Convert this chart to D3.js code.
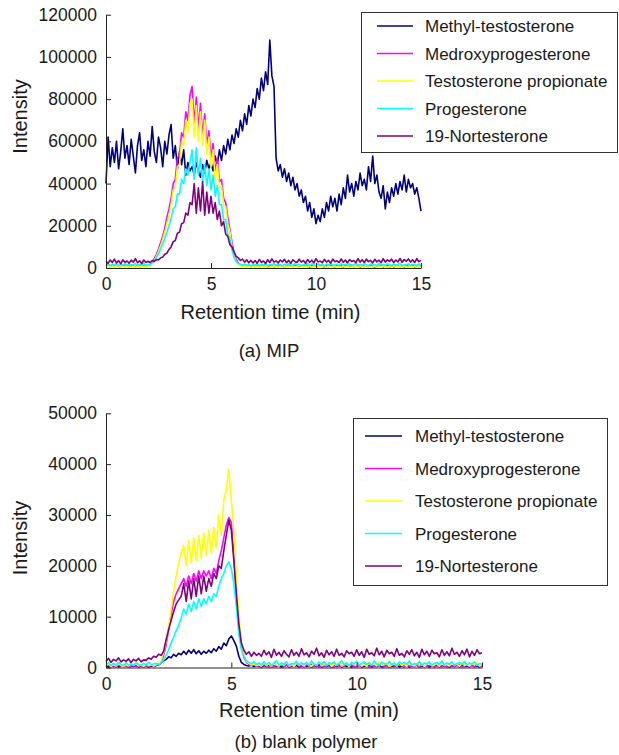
<!DOCTYPE html>
<html><head><meta charset="utf-8">
<script src="https://cdn.jsdelivr.net/npm/d3@7"></script>
<style>
body{margin:0;background:#fff;}
svg{display:block;font-family:"Liberation Sans",Arial,Helvetica,sans-serif;}
</style>
</head><body>
<svg id="chart" width="619" height="755"></svg>
<script>
// ---------------- data ----------------
const seriesNames = ["Methyl-testosterone","Medroxyprogesterone","Testosterone propionate","Progesterone","19-Nortesterone"];
const seriesColors = ["#000080","#ff00ff","#ffff00","#00ffff","#800080"];
const timeStep = 0.1;            // minutes between samples (t = 0 … 15)
const xTickValues = [0,5,10,15];
const yTickValuesA = [0,20000,40000,60000,80000,100000,120000];
const yTickValuesB = [0,10000,20000,30000,40000,50000];
const panelCaptions = ["(a) MIP","(b) blank polymer"];
const xAxisTitle = "Retention time (min)";
const yAxisTitle = "Intensity";

// intensities in thousands (×1000), panel (a) MIP
const mtA = [40,
 62,48,57,50,60,47,55,66,52,58,
 49,61,53,45,58,64,51,56,48,60,
 53,67,55,50,62,57,48,60,54,63,
 68,52,58,47,55,49,56,44,50,46,
 48,44,50,46,43,49,45,51,47,50,
 46,53,49,56,51,58,54,61,56,63,
 59,66,62,70,65,73,68,77,72,80,
 76,85,80,90,84,93,87,108,91,86,
 52,46,49,43,47,41,45,39,43,37,
 40,34,37,31,34,27,31,24,28,21,
 25,22,28,24,31,27,34,29,33,27,
 35,30,38,33,44,36,40,34,41,37,
 45,39,42,37,48,41,53,40,44,36,
 33,39,28,36,31,38,34,40,35,41,
 37,44,36,42,38,40,35,38,33,27];
const mpA = [0.8,
 1.5,0.5,1.2,0.7,1.6,0.9,0.4,1.3,0.8,1.1,
 0.6,1.4,0.9,0.5,1.2,0.7,1.5,0.8,1.0,1.3,
 1.5,2.8,4.5,6.5,9,12,15,19,24,28,
 33,40,42,52,54,64,62,74,70,82,
 86,68,81,66,78,62,73,58,65,52,
 59,45,52,41,42,33,31,24,18,12,
 7,4,2.5,1.5,1.0,1.3,0.7,1.1,0.5,1.2,
 0.6,1.3,0.4,1.0,0.7,1.4,0.5,0.9,1.2,0.3,
 1.1,0.6,1.5,0.8,0.4,1.2,0.7,1.0,0.5,1.3,
 0.8,0.4,1.1,0.6,1.4,0.9,0.3,1.2,0.7,1.0,
 0.5,1.3,0.8,0.4,1.1,0.6,1.5,0.9,0.5,1.2,
 0.7,1.0,0.4,1.3,0.8,0.6,1.4,0.5,0.9,1.1,
 0.3,1.2,0.7,1.0,0.6,1.5,0.8,0.4,1.1,0.7,
 1.3,0.5,0.9,1.2,0.6,1.0,0.4,1.4,0.8,0.6,
 1.1,0.5,1.3,0.7,0.9,1.2,0.4,1.0,0.6,1.1];
const tpA = [0.6,
 1.0,0.4,0.9,0.5,1.1,0.7,0.3,1.0,0.6,0.8,
 0.5,1.0,0.7,0.4,0.9,0.6,1.1,0.5,0.8,1.0,
 1.2,2.2,3.6,5.5,7.8,10.5,13.5,17,21,25,
 30,37,38,48,49,60,58,70,64,78,
 80,62,77,60,74,58,70,54,62,48,
 56,42,49,38,39,30,29,21,17,10,
 5.5,3,1.8,1.2,0.8,1.0,0.5,0.9,0.4,0.8,
 0.5,0.9,0.3,0.8,0.4,1.1,0.6,0.2,0.9,0.5,
 0.8,0.3,1.0,0.6,0.4,0.9,0.5,1.2,0.3,0.7,
 0.6,0.2,0.9,0.5,1.0,0.4,0.8,0.3,1.1,0.6,
 0.4,0.9,0.5,0.7,0.2,1.0,0.6,0.4,0.8,0.5,
 1.1,0.3,0.7,0.5,0.9,0.2,0.8,0.6,1.0,0.4,
 0.6,0.9,0.3,1.2,0.5,0.7,0.4,0.9,0.3,0.8,
 0.5,1.0,0.6,0.3,0.9,0.4,0.7,1.1,0.5,0.8,
 0.3,0.9,0.6,0.4,1.0,0.5,0.8,0.3,0.7,0.6];
const pgA = [1.5,
 2.0,1.1,1.8,1.3,2.2,1.0,1.7,1.2,2.0,1.4,
 1.9,1.0,1.6,2.1,1.2,1.8,1.4,2.2,1.1,1.7,
 1.6,2.6,3.4,5.0,6.8,9.0,11.5,14,17,20,
 23.5,28,29,35,35,42,40,47,44,50,
 56,42,57,44,52,41,49,39,47,37,
 44,34,39,30,30,23,23,16,14,8.5,
 5,3,2.2,1.8,1.3,1.9,1.2,1.7,1.0,1.6,
 1.4,2.0,1.1,1.8,1.3,2.2,1.0,1.7,1.5,2.1,
 1.2,1.9,1.4,1.0,1.8,1.3,2.1,1.1,1.6,2.0,
 1.3,1.8,1.0,1.7,1.4,2.2,1.2,1.9,1.5,1.1,
 2.0,1.3,1.7,1.0,1.9,1.4,2.1,1.2,1.6,1.8,
 1.1,2.0,1.4,1.7,1.2,1.9,1.0,1.6,2.2,1.3,
 1.8,1.2,2.0,1.5,1.1,1.9,1.3,1.7,1.0,2.1,
 1.4,1.8,1.2,2.0,1.5,1.0,1.9,1.3,1.7,2.2,
 1.1,1.6,1.4,2.0,1.2,1.8,1.5,1.1,1.9,1.4];
const ntA = [3.2,
 2.2,3.8,2.6,4.2,2.4,3.5,2.0,3.9,2.7,3.3,
 2.3,3.7,2.8,4.4,2.5,3.4,2.1,3.8,2.6,3.2,
 2.6,3.5,3.1,4.0,3.8,4.8,5.2,6.5,7.0,8.8,
 10,12.5,13,16.5,17,21,21.5,26,25,31,
 30,40,26,38,27,41,25,36,26,34,
 26,31,23,27,20,22,16,15,11,10,
 7.5,5.5,4.8,3.6,4.2,2.8,3.9,2.5,3.6,2.4,
 3.5,2.3,4.0,2.7,3.3,2.2,3.9,2.6,4.3,2.8,
 3.4,2.4,3.8,2.9,4.1,2.5,3.6,2.2,3.9,3.0,
 2.6,4.2,2.8,3.5,2.3,4.0,2.7,3.7,2.4,4.4,
 2.9,3.3,2.5,4.1,2.8,3.6,2.3,4.2,3.0,3.4,
 2.6,4.3,2.7,3.8,2.4,4.0,3.1,3.5,2.5,4.4,
 2.8,3.9,2.6,4.2,3.0,3.6,2.4,4.1,2.9,3.7,
 2.5,4.4,2.8,3.9,3.1,4.2,2.6,3.8,2.9,4.5,
 2.7,4.0,3.2,4.3,2.8,3.9,2.6,4.4,3.0,3.6];

// intensities in thousands (×1000), panel (b) blank polymer
const mtB = [0.3,
 0.1,0.4,0.2,0.5,0.1,0.3,0.2,0.4,0.1,0.3,
 0.2,0.5,0.1,0.3,0.2,0.4,0.1,0.3,0.2,0.4,
 0.5,0.9,1.3,1.6,2.1,1.9,2.6,2.2,2.8,2.5,
 3.2,2.6,3.4,2.8,3.5,2.7,3.3,2.6,3.2,2.8,
 3.4,2.9,3.7,3.2,4.1,3.6,4.8,4.3,5.6,6.2,
 5.3,4.2,2.2,1.0,0.6,0.4,0.3,0.5,0.2,0.4,
 0.3,0.1,0.4,0.2,0.5,0.1,0.3,0.2,0.4,0.1,
 0.2,0.5,0.1,0.3,0.2,0.4,0.1,0.3,0.6,0.2,
 0.4,0.1,0.3,0.2,0.5,0.1,0.3,0.2,0.4,0.1,
 0.3,0.2,0.5,0.1,0.4,0.2,0.3,0.1,0.4,0.2,
 0.5,0.1,0.3,0.2,0.4,0.1,0.3,0.2,0.5,0.1,
 0.2,0.4,0.1,0.3,0.2,0.5,0.1,0.3,0.2,0.4,
 0.1,0.3,0.2,0.6,0.1,0.3,0.2,0.4,0.1,0.3,
 0.2,0.5,0.1,0.3,0.2,0.4,0.1,0.3,0.2,0.5,
 0.1,0.4,0.2,0.3,0.1,0.5,0.2,0.3,0.1,0.4];
const mpB = [0.3,
 0.5,0.2,0.4,0.1,0.5,0.3,0.2,0.4,0.1,0.3,
 0.4,0.2,0.5,0.3,0.1,0.4,0.2,0.5,0.3,0.4,
 0.5,1.0,2.4,4.5,7.5,10.5,13,14.5,15.5,16.5,
 17.5,16,18,16.5,18.5,17,19,17.5,19,18,
 19,17.5,19.5,18.5,21,23,25.5,28,29.5,28.5,
 22,15,8.5,4.2,2,1,0.6,0.4,0.5,0.3,
 0.4,0.2,0.6,0.3,0.1,0.5,0.2,0.4,0.3,0.6,
 0.2,0.5,0.1,0.4,0.3,0.7,0.2,0.4,0.1,0.5,
 0.3,0.6,0.2,0.4,0.1,0.5,0.3,0.2,0.6,0.4,
 0.1,0.5,0.3,0.2,0.4,0.6,0.2,0.5,0.1,0.3,
 0.4,0.2,0.7,0.3,0.1,0.5,0.2,0.4,0.3,0.6,
 0.2,0.4,0.1,0.5,0.3,0.2,0.6,0.4,0.1,0.5,
 0.3,0.2,0.5,0.4,0.1,0.6,0.3,0.2,0.4,0.5,
 0.1,0.3,0.6,0.2,0.4,0.1,0.5,0.3,0.2,0.4,
 0.6,0.1,0.3,0.5,0.2,0.4,0.1,0.6,0.3,0.2];
const tpB = [0.4,
 0.7,0.2,0.6,0.3,0.8,0.4,0.2,0.6,0.3,0.7,
 0.4,0.8,0.3,0.6,0.2,0.7,0.4,0.5,0.3,0.6,
 0.7,1.4,3.0,5.2,8.2,11.5,15,18,20.5,22.5,
 24,20,25,20.5,25.5,21,26,21.5,26.5,22,
 27,22.5,27.5,23.5,30,26,33,35,39,33,
 27,18,10,5,2.5,1.2,0.8,0.5,0.7,0.4,
 0.6,0.3,0.9,0.4,0.7,0.2,1.0,0.5,0.3,0.8,
 0.4,1.1,0.3,0.6,0.2,0.9,0.5,0.7,0.3,1.0,
 0.5,0.2,0.8,0.4,1.2,0.3,0.6,0.5,0.9,0.2,
 0.7,0.4,1.0,0.3,0.6,0.8,0.2,1.1,0.5,0.4,
 0.9,0.3,0.6,0.2,1.0,0.5,0.7,0.3,1.2,0.4,
 0.6,0.9,0.2,0.5,0.8,0.3,1.0,0.4,0.7,0.2,
 1.1,0.5,0.3,0.8,0.4,0.9,0.2,0.6,1.0,0.3,
 0.5,0.8,0.2,1.2,0.4,0.6,0.3,0.9,0.5,0.7,
 0.2,1.0,0.4,0.6,0.3,0.8,0.5,1.1,0.3,0.6];
const pgB = [0.6,
 0.9,0.4,0.8,0.5,1.0,0.6,0.4,0.9,0.5,0.7,
 0.5,0.9,0.6,0.4,0.8,0.5,1.0,0.6,0.7,0.8,
 0.6,0.9,1.5,2.4,3.5,4.8,6.0,7.2,8.3,9.8,
 11.5,10.5,12.5,11,13,11.5,13.5,12,13.5,12.5,
 14,13,14.5,14,16,17.5,18.5,20,20.8,19.5,
 16.5,12,6.5,3.5,2.2,1.4,1.0,0.7,1.1,0.6,
 0.9,0.5,1.2,0.6,1.0,0.4,0.8,1.3,0.5,0.9,
 0.6,1.1,0.4,0.8,0.7,1.2,0.5,0.9,0.6,1.0,
 0.4,1.3,0.7,0.5,1.0,0.6,1.2,0.4,0.9,0.7,
 1.1,0.5,0.8,1.3,0.6,0.9,0.4,1.0,0.7,1.2,
 0.5,0.8,1.1,0.6,0.9,0.4,1.3,0.7,0.5,1.0,
 0.8,0.6,1.2,0.5,0.9,0.4,1.1,0.7,1.0,0.6,
 1.3,0.5,0.8,0.6,1.2,0.4,0.9,0.7,1.1,0.5,
 0.8,1.0,0.6,1.3,0.5,0.9,0.7,1.1,0.4,0.8,
 1.0,0.6,1.2,0.5,0.9,0.7,1.1,0.4,0.8,0.6];
const ntB = [1.2,
 1.8,1.0,1.6,1.3,1.9,1.1,1.5,1.2,1.7,1.0,
 1.6,1.3,1.8,1.1,1.5,1.4,1.9,1.6,2.2,2.0,
 2.6,2.4,3.2,5.5,7.5,9.3,11,12.5,13.3,14,
 16.5,13,17,13.5,17.5,14,18,14.5,18,15,
 17.5,16,18.5,17.5,20,19.5,23,26,29,27,
 21,14.6,8.6,4.8,3.4,2.6,3.1,2.2,3.0,2.4,
 2.8,2.2,3.4,2.5,3.1,2.0,3.6,2.4,3.0,2.2,
 3.3,2.6,2.1,3.5,2.4,3.0,2.2,3.7,2.5,2.9,
 2.1,3.2,2.6,3.8,2.3,2.9,2.0,3.4,2.5,3.1,
 2.2,3.6,2.4,2.8,2.1,3.3,2.7,3.0,2.2,3.5,
 2.4,3.1,2.0,3.6,2.6,2.9,2.3,3.8,2.5,3.2,
 2.1,3.4,2.7,3.0,2.2,3.7,2.4,2.8,2.1,3.3,
 2.6,3.5,2.3,3.0,2.0,3.6,2.5,3.2,2.2,3.4,
 2.7,2.9,2.1,3.5,2.4,3.1,2.3,3.8,2.6,3.0,
 2.2,3.3,2.5,3.6,2.1,3.2,2.4,3.5,2.7,2.9];

// ---------------- drawing ----------------
const svg = d3.select("#chart");

const panels = [
  { series:[mtA,mpA,tpA,pgA,ntA], yTicks:yTickValuesA, yMax:120000,
    x0:106, x1:421, yBottom:268, yTop:14.7,
    legend:{x:361, y:12, w:256, h:140, row0:26, rowGap:27.5, lineX0:377, lineX1:413, textX:425},
    yTitleY:116.5, xTitleX:270.5, xTitleY:319, captionX:269, captionY:357, caption:panelCaptions[0] },
  { series:[mtB,mpB,tpB,pgB,ntB], yTicks:yTickValuesB, yMax:50000,
    x0:106, x1:482, yBottom:667.5, yTop:413.3,
    legend:{x:353, y:418, w:254, h:167, row0:436, rowGap:32.5, lineX0:365, lineX1:402, textX:415},
    yTitleY:538, xTitleX:309, xTitleY:717, captionX:306, captionY:748, caption:panelCaptions[1] }
];

panels.forEach(p => {
  const x = d3.scaleLinear().domain([0,15]).range([p.x0,p.x1]);
  const y = d3.scaleLinear().domain([0,p.yMax]).range([p.yBottom,p.yTop]);
  const g = svg.append("g");

  const line = d3.line()
    .x((d,i) => x(i*timeStep))
    .y(d => y(d*1000));

  p.series.forEach((s,k) => {
    g.append("path").datum(s)
      .attr("d", line)
      .attr("fill","none")
      .attr("stroke", seriesColors[k])
      .attr("stroke-width", 1.6)
      .attr("stroke-linejoin","round");
  });

  // axes
  const xAxis = d3.axisBottom(x).tickValues(xTickValues).tickSizeInner(-5).tickSizeOuter(0).tickPadding(10);
  const yAxis = d3.axisLeft(y).tickValues(p.yTicks).tickSizeInner(-5).tickSizeOuter(0).tickPadding(9).tickFormat(d3.format("d"));

  const gx = g.append("g").attr("transform",`translate(0,${p.yBottom})`).call(xAxis);
  const gy = g.append("g").attr("transform",`translate(${p.x0},0)`).call(yAxis);
  [gx,gy].forEach(a => {
    a.select(".domain").attr("stroke","#222").attr("stroke-width",1);
    a.selectAll(".tick line").attr("stroke","#222");
    a.selectAll(".tick text").attr("fill","#1a1a1a").style("font-size","17.5px").style("font-family","'Liberation Sans',Arial,sans-serif");
  });

  // axis titles
  g.append("text")
    .attr("transform",`translate(26.5,${p.yTitleY}) rotate(-90)`)
    .attr("text-anchor","middle")
    .style("font-size","20px").attr("fill","#1a1a1a")
    .text(yAxisTitle);
  g.append("text")
    .attr("x",p.xTitleX).attr("y",p.xTitleY)
    .attr("text-anchor","middle")
    .style("font-size","20px").attr("fill","#1a1a1a")
    .text(xAxisTitle);
  g.append("text")
    .attr("x",p.captionX).attr("y",p.captionY)
    .attr("text-anchor","middle")
    .style("font-size","18.5px").attr("fill","#1a1a1a")
    .text(p.caption);

  // legend
  const L = p.legend;
  const lg = g.append("g");
  lg.append("rect").attr("x",L.x+0.5).attr("y",L.y+0.5).attr("width",L.w).attr("height",L.h)
    .attr("fill","#fff").attr("stroke","#333").attr("stroke-width",1);
  seriesNames.forEach((name,k) => {
    const cy = L.row0 + k*L.rowGap;
    lg.append("line").attr("x1",L.lineX0).attr("x2",L.lineX1).attr("y1",cy).attr("y2",cy)
      .attr("stroke",seriesColors[k]).attr("stroke-width",1.5);
    lg.append("text").attr("x",L.textX).attr("y",cy+6)
      .style("font-size","17px").attr("fill","#1a1a1a")
      .text(name);
  });
});
</script>
</body></html>
